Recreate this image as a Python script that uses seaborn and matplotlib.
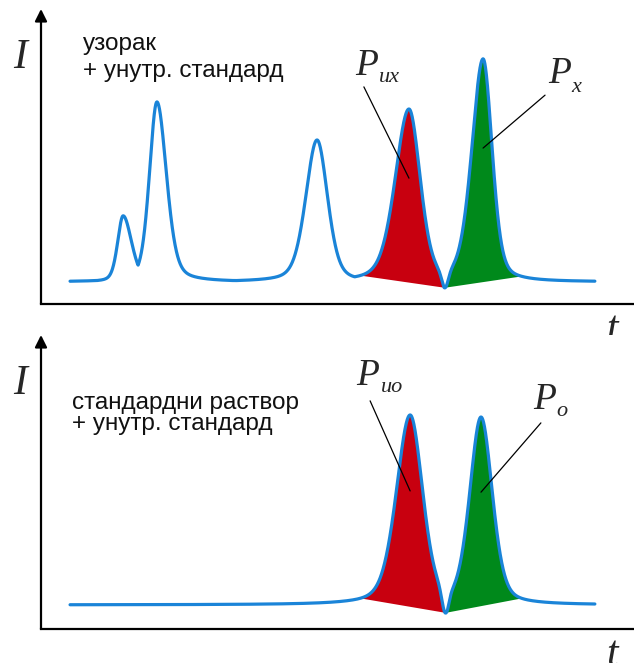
import numpy as np
import matplotlib
matplotlib.use("Agg")
import matplotlib.pyplot as plt
import seaborn as sns

# --- top panel: sample + internal standard ---
top_baseline = 0.75
top_span = (0.98, 18.68)
top_centers = [2.77, 3.91, 9.31, 12.41, 14.91]
top_heights = [2.24, 6.10, 4.81, 5.86, 7.56]
top_left_w = [0.22, 0.30, 0.45, 0.55, 0.45]
top_right_w = [0.34, 0.38, 0.42, 0.45, 0.36]
top_valley = (13.63, 0.20)          # position, depth below baseline
top_red = (10.76, 13.63)            # filled area of internal standard
top_green = (13.63, 16.22)          # filled area of analyte
top_text = ["узорак", "+ унутр. стандард"]
top_text_y = [8.61, 7.69]
top_text_x = 1.40

# --- bottom panel: standard solution + internal standard ---
bot_baseline = 0.82
bot_span = (0.98, 18.68)
bot_centers = [12.45, 14.84]
bot_heights = [6.46, 6.39]
bot_left_w = [0.55, 0.45]
bot_right_w = [0.50, 0.45]
bot_valley = (13.63, 0.27)
bot_red = (10.76, 13.63)
bot_green = (13.63, 16.22)
bot_text = ["стандардни раствор", "+ унутр. стандард"]
bot_text_y = [7.48, 6.77]
bot_text_x = 1.03

# peak labels: (main, subscript, P position, subscript position, leader start, peak index)
top_labels = [("P", "их", (10.59, 7.76), (11.40, 7.53), (10.89, 7.36), 3),
              ("P", "х", (17.10, 7.49), (17.87, 7.19), (17.00, 7.08), 4)]
bot_labels = [("P", "ио", (10.62, 8.30), (11.47, 8.06), (11.10, 7.76), 0),
              ("P", "о", (16.59, 7.48), (17.37, 7.25), (16.86, 7.01), 1)]

TAIL = 0.35
BLUE = "#1a84d8"
RED = "#c8000f"
GREEN = "#00891b"
SERIF = "Liberation Serif"
SANS = "Liberation Sans"

sns.set_style("white")
plt.rcParams["font.family"] = [SANS, "DejaVu Sans"]


def peak(t, c, h, wl, wr):
    w = np.where(t < c, wl, wr)
    r = (t - c) / w
    return h * ((1 - TAIL) * np.exp(-np.log(2) * r ** 2) + TAIL / (1 + r ** 2))


def chromatogram(t, base, centers, heights, wl, wr, valley):
    sig = np.max([peak(t, c, h, a, b) for c, h, a, b in zip(centers, heights, wl, wr)], axis=0)
    y = base + sig
    tv, depth = valley
    at_v = base + np.max([peak(np.array([tv]), c, h, a, b)[0]
                          for c, h, a, b in zip(centers, heights, wl, wr)])
    y -= (at_v - (base - depth)) * np.exp(-((t - tv) / 0.15) ** 2)
    return y


def draw_panel(ax, base, span, centers, heights, wl, wr, valley, red, green,
               text, text_y, text_x, labels):
    t = np.linspace(span[0], span[1], 3000)
    y = chromatogram(t, base, centers, heights, wl, wr, valley)

    for (a, b), col in [(red, RED), (green, GREEN)]:
        m = (t >= a) & (t <= b)
        ax.fill(t[m], y[m], color=col, lw=0, zorder=2)

    sns.lineplot(x=t, y=y, ax=ax, color=BLUE, lw=2.3, sort=False, zorder=3)

    ax.set_xlim(0, 20)
    ax.set_ylim(0, 10)
    ax.set_xticks([])
    ax.set_yticks([])
    for s in ["top", "right", "left"]:
        ax.spines[s].set_visible(False)
    ax.spines["bottom"].set_linewidth(1.6)
    ax.spines["bottom"].set_color("black")
    ax.annotate("", xy=(0, 1.0), xytext=(0, 0), xycoords="axes fraction",
                arrowprops=dict(arrowstyle="-|>", lw=1.6, color="black",
                                mutation_scale=18, shrinkA=0, shrinkB=0))

    for line, yy in zip(text, text_y):
        ax.text(text_x, yy, line, fontsize=17.5, family=SANS, va="baseline",
                color="#111111")

    ax.text(-0.71, 8.35, "I", fontsize=30, family=SERIF, style="italic",
            ha="center", va="center", clip_on=False)
    ax.text(19.27, -0.88, "t", fontsize=30, family=SERIF, style="italic",
            ha="center", va="center", clip_on=False)

    for main, sub, p_pos, s_pos, start, idx in labels:
        ax.text(*p_pos, main, fontsize=27, family=SERIF, style="italic", va="baseline")
        ax.text(*s_pos, sub, fontsize=16, family=SERIF, style="italic", va="baseline")
        end = (centers[idx], base + 0.6 * heights[idx])
        ax.annotate("", xy=end, xytext=start,
                    arrowprops=dict(arrowstyle="-", lw=0.9, color="black",
                                    shrinkA=0, shrinkB=0), zorder=4)


fig = plt.figure(figsize=(6.34, 6.63), dpi=100)
ax_top = fig.add_axes([41 / 634, 359 / 663, 593 / 634, 295 / 663])
ax_bot = fig.add_axes([41 / 634, 34 / 663, 593 / 634, 294 / 663])

draw_panel(ax_top, top_baseline, top_span, top_centers, top_heights, top_left_w,
           top_right_w, top_valley, top_red, top_green, top_text, top_text_y,
           top_text_x, top_labels)
draw_panel(ax_bot, bot_baseline, bot_span, bot_centers, bot_heights, bot_left_w,
           bot_right_w, bot_valley, bot_red, bot_green, bot_text, bot_text_y,
           bot_text_x, bot_labels)

fig.savefig("out.png", dpi=100)
